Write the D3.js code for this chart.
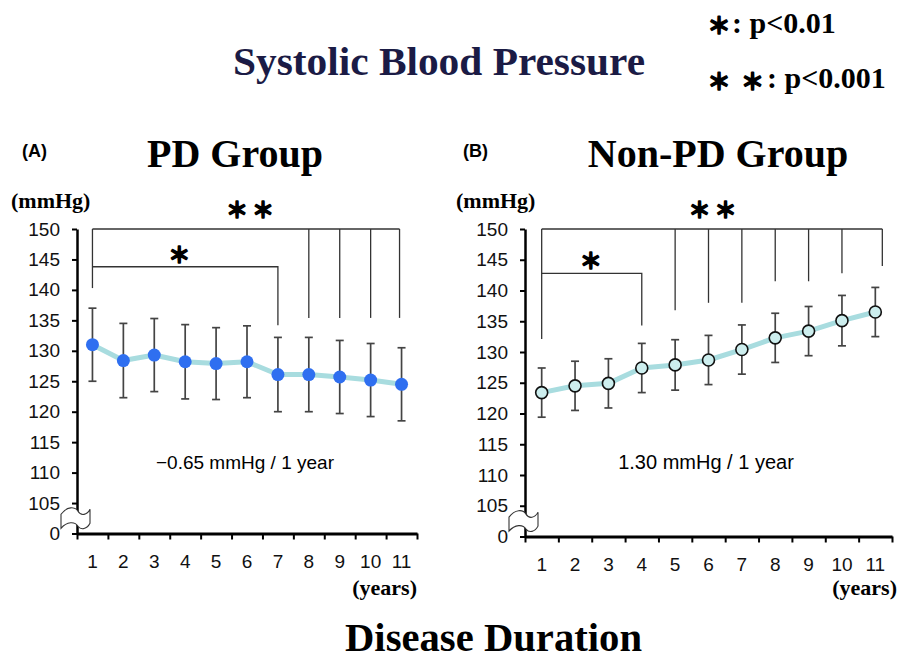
<!DOCTYPE html>
<html lang="en">
<head>
<meta charset="utf-8">
<title>Systolic Blood Pressure</title>
<script src="https://d3js.org/d3.v7.min.js"></script>
<style>
  body { margin: 0; background: #fff; }
  .serif { font-family: "Liberation Serif", "Times New Roman", serif; font-weight: bold; }
  .sans { font-family: "Liberation Sans", Arial, sans-serif; }
  .star { font-family: "Noto Sans CJK JP", "DejaVu Sans", sans-serif; font-weight: bold;
          stroke: #000; stroke-width: 1.6; stroke-linejoin: round; }
</style>
</head>
<body>
<script>
// years of disease duration
var years = ["1", "2", "3", "4", "5", "6", "7", "8", "9", "10", "11"];
// y ticks (100 stands for the broken "0" at the bottom)
var yTicks = [100, 105, 110, 115, 120, 125, 130, 135, 140, 145, 150];
var yTickLabels = ["0", "105", "110", "115", "120", "125", "130", "135", "140", "145", "150"];

// mean and SD, PD group
var pdMean = [131.0, 128.4, 129.3, 128.2, 127.9, 128.2, 126.1, 126.1, 125.7, 125.2, 124.5];
var pdSD = [6.0, 6.1, 6.0, 6.1, 5.9, 5.9, 6.1, 6.1, 6.0, 6.0, 6.0];
// mean and SD, non-PD group
var nonPdMean = [123.4, 124.5, 124.9, 127.4, 127.9, 128.7, 130.4, 132.3, 133.4, 135.1, 136.5];
var nonPdSD = [4.0, 4.0, 4.0, 4.0, 4.1, 4.0, 4.0, 4.0, 4.0, 4.1, 4.0];

// ** bracket: [year, where the drop ends in mmHg]
var pdDoubleDrops = [["1", 140.3], ["8", 135.4], ["9", 135.4], ["10", 135.4], ["11", 135.4]];
var nonPdDoubleDrops = [["1", 132.1], ["5", 136.8], ["6", 138.0], ["7", 138.0], ["8", 141.5],
                        ["9", 141.5], ["10", 142.8], ["11", 144.0]];
// * bracket: [from, to, level, drop end]
var pdSingle = ["1", "7", 143.8, 134.2];
var nonPdSingle = ["1", "4", 142.8, 134.3];

var w = 898, h = 660;
var svg = d3.select("body").append("svg")
  .attr("width", w)
  .attr("height", h);

// headings
svg.append("text").attr("class", "serif")
  .attr("x", 233).attr("y", 75)
  .attr("font-size", 40)
  .attr("textLength", 412).attr("lengthAdjust", "spacingAndGlyphs")
  .attr("fill", "#1b1b45")
  .text("Systolic Blood Pressure");

svg.append("text").attr("class", "serif")
  .attr("x", 345).attr("y", 651)
  .attr("font-size", 39)
  .attr("textLength", 297).attr("lengthAdjust", "spacingAndGlyphs")
  .text("Disease Duration");

// legend
svg.append("text").attr("class", "star").attr("x", 719).attr("y", 24)
  .attr("font-size", 23).attr("text-anchor", "middle").attr("dominant-baseline", "central")
  .text("＊");
svg.append("text").attr("class", "serif").attr("x", 732).attr("y", 33)
  .attr("font-size", 30).text(": p<0.01");
svg.selectAll("text.lstar2").data([719, 752.5]).enter().append("text")
  .attr("class", "star lstar2").attr("x", function (d) { return d; }).attr("y", 80)
  .attr("font-size", 23).attr("text-anchor", "middle").attr("dominant-baseline", "central")
  .text("＊");
svg.append("text").attr("class", "serif").attr("x", 767).attr("y", 88)
  .attr("font-size", 30).text(": p<0.001");

function panel(cfg) {
  var g = svg.append("g");
  var x = d3.scaleBand().domain(years).range([cfg.left, cfg.right]);
  var xEdge = d3.scaleLinear().domain([0, years.length]).range([cfg.left, cfg.right]);
  var y = d3.scaleLinear().domain([100, 150]).range([cfg.bottom, cfg.top]);
  var cx = function (d) { return x(d) + x.bandwidth() / 2; };

  // panel letter, title, units
  g.append("text").attr("class", "sans").attr("font-weight", "bold")
    .attr("x", cfg.letterX).attr("y", 157).attr("font-size", 18).text(cfg.letter);
  g.append("text").attr("class", "serif")
    .attr("x", cfg.titleX).attr("y", 167).attr("font-size", 40)
    .attr("text-anchor", "middle").text(cfg.title);
  g.append("text").attr("class", "serif")
    .attr("x", cfg.unitX).attr("y", 208).attr("font-size", 22).text("(mmHg)");
  g.append("text").attr("class", "serif")
    .attr("x", cfg.yearsX).attr("y", 595).attr("font-size", 22)
    .attr("text-anchor", "end").text("(years)");

  // y axis
  var ya = g.append("g")
    .attr("transform", "translate(" + cfg.left + ",0)")
    .call(d3.axisLeft(y).tickValues(yTicks)
      .tickFormat(function (d, i) { return yTickLabels[i]; })
      .tickSize(5).tickSizeOuter(0).tickPadding(12));
  ya.select(".domain").attr("stroke-width", 2.5);
  ya.selectAll(".tick line").attr("stroke-width", 2);
  ya.selectAll("text").attr("class", "sans").attr("font-size", 19).attr("fill", "#111");

  // x axis: ticks on band edges, labels in the middle
  var xa = g.append("g")
    .attr("transform", "translate(0," + cfg.bottom + ")")
    .call(d3.axisBottom(xEdge).tickValues(d3.range(years.length + 1))
      .tickFormat("").tickSize(6).tickSizeOuter(0));
  xa.select(".domain").attr("stroke-width", 3);
  xa.selectAll(".tick line").attr("stroke-width", 2);
  var xl = g.append("g")
    .attr("transform", "translate(0," + cfg.bottom + ")")
    .call(d3.axisBottom(x).tickSize(0).tickPadding(21));
  xl.select(".domain").remove();
  xl.selectAll("text").attr("class", "sans").attr("font-size", 19).attr("fill", "#111");

  // axis break between 105 and 0
  var by = (y(100) + y(105)) / 2;
  g.append("path")
    .attr("transform", "translate(" + cfg.left + "," + by + ")")
    .attr("d", "M-16,-4 C-10,-12 -2,-12 1,-7 C4,-2 10,-3 13,-9 L13,5 C10,11 4,12 1,8 C-2,3 -10,3 -16,10 Z")
    .attr("fill", "#fff").attr("stroke", "#333").attr("stroke-width", 1.1);

  // significance brackets
  var br = g.append("g").attr("fill", "none").attr("stroke", "#333").attr("stroke-width", 1.3);
  var drops = cfg.drops;
  var lastX = cx(drops[drops.length - 1][0]) + cfg.endShift;
  br.append("line")
    .attr("x1", cx(drops[0][0])).attr("x2", lastX)
    .attr("y1", y(150)).attr("y2", y(150));
  br.selectAll("line.drop").data(drops).enter().append("line")
    .attr("class", "drop")
    .attr("x1", function (d, i) { return i === drops.length - 1 ? lastX : cx(d[0]); })
    .attr("x2", function (d, i) { return i === drops.length - 1 ? lastX : cx(d[0]); })
    .attr("y1", y(150)).attr("y2", function (d) { return y(d[1]); });
  var s = cfg.single;
  br.append("polyline")
    .attr("points", [[cx(s[0]), y(s[2])], [cx(s[1]), y(s[2])], [cx(s[1]), y(s[3])]].join(" "));

  var mid2 = (cx(drops[0][0]) + cx(drops[drops.length - 1][0])) / 2;
  g.selectAll("text.s2").data([-13, 13]).enter().append("text")
    .attr("class", "star s2").attr("x", function (d) { return mid2 + cfg.starShift + d; })
    .attr("y", y(150) - 21).attr("font-size", 22)
    .attr("text-anchor", "middle").attr("dominant-baseline", "central").text("＊");
  g.append("text").attr("class", "star")
    .attr("x", (cx(s[0]) + cx(s[1])) / 2 + cfg.star1Shift).attr("y", y(s[2]) - 14)
    .attr("font-size", 22).attr("text-anchor", "middle").attr("dominant-baseline", "central")
    .text("＊");

  // slope note
  g.append("text").attr("class", "sans")
    .attr("x", cfg.noteX).attr("y", 469).attr("font-size", cfg.noteSize)
    .attr("text-anchor", "middle").text(cfg.note);

  // trend line
  g.append("path")
    .datum(cfg.mean)
    .attr("fill", "none").attr("stroke", "#a8dcdf").attr("stroke-width", 5)
    .attr("stroke-linejoin", "round")
    .attr("d", d3.line()
      .x(function (d, i) { return cx(years[i]); })
      .y(function (d) { return y(d); }));

  // error bars
  var eb = g.append("g").attr("stroke", "#444").attr("stroke-width", 1.7);
  var bars = eb.selectAll("g").data(cfg.mean).enter().append("g");
  bars.append("line")
    .attr("x1", function (d, i) { return cx(years[i]); })
    .attr("x2", function (d, i) { return cx(years[i]); })
    .attr("y1", function (d, i) { return y(d + cfg.sd[i]); })
    .attr("y2", function (d, i) { return y(d - cfg.sd[i]); });
  [1, -1].forEach(function (sign) {
    bars.append("line")
      .attr("x1", function (d, i) { return cx(years[i]) - 4; })
      .attr("x2", function (d, i) { return cx(years[i]) + 4; })
      .attr("y1", function (d, i) { return y(d + sign * cfg.sd[i]); })
      .attr("y2", function (d, i) { return y(d + sign * cfg.sd[i]); });
  });

  // markers
  g.selectAll("circle").data(cfg.mean).enter().append("circle")
    .attr("cx", function (d, i) { return cx(years[i]); })
    .attr("cy", function (d) { return y(d); })
    .attr("r", cfg.r)
    .attr("fill", cfg.fill)
    .attr("stroke", cfg.stroke)
    .attr("stroke-width", 1.6);
}

panel({
  left: 77, right: 417, top: 229, bottom: 533.5,
  letter: "(A)", letterX: 22, title: "PD Group", titleX: 235, unitX: 11, yearsX: 417,
  mean: pdMean, sd: pdSD, drops: pdDoubleDrops, single: pdSingle,
  starShift: 3, star1Shift: -6, endShift: -2,
  note: "\u22120.65 mmHg / 1 year", noteX: 245, noteSize: 19,
  r: 6.5, fill: "#2f6ff0", stroke: "none"
});

panel({
  left: 525, right: 892, top: 229, bottom: 536.5,
  letter: "(B)", letterX: 463, title: "Non-PD Group", titleX: 718, unitX: 456, yearsX: 897,
  mean: nonPdMean, sd: nonPdSD, drops: nonPdDoubleDrops, single: nonPdSingle,
  starShift: 4, star1Shift: -1, endShift: 7,
  note: "1.30 mmHg / 1 year", noteX: 706, noteSize: 20,
  r: 6, fill: "#cdeeee", stroke: "#111"
});
</script>
</body>
</html>
